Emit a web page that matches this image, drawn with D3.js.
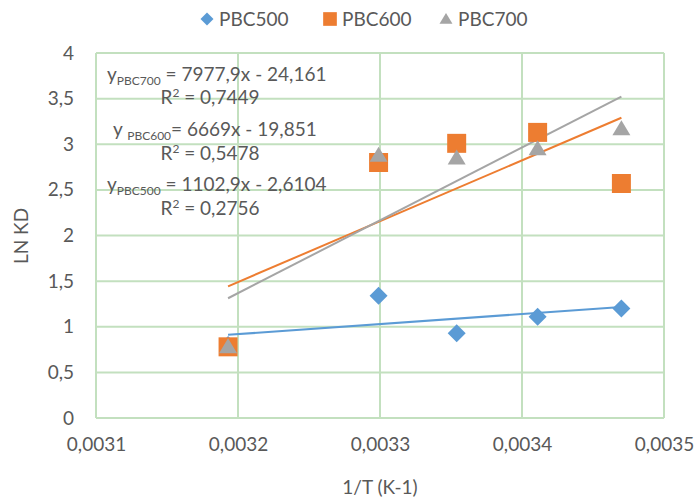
<!DOCTYPE html>
<html><head><meta charset="utf-8">
<script src="https://cdn.jsdelivr.net/npm/d3@7"></script>
<style>body{margin:0;background:#fff}svg{display:block;font-family:Lato,"Open Sans",sans-serif}</style>
</head><body><svg id="c" width="700" height="502"></svg>
<script>
const invT = [0.003193, 0.003299, 0.003354, 0.003411, 0.003470];
const pbc500 = [0.80, 1.34, 0.93, 1.11, 1.20];
const pbc600 = [0.78, 2.80, 3.01, 3.13, 2.57];
const pbc700 = [0.78, 2.88, 2.85, 2.95, 3.17];
const seriesNames = ["PBC500", "PBC600", "PBC700"];
const slopes = [1102.9, 6669, 7977.9];
const intercepts = [-2.6104, -19.851, -24.161];
const r2 = ["0,2756", "0,5478", "0,7449"];
const xTicks = [0.0031, 0.0032, 0.0033, 0.0034, 0.0035];
const yTicks = [0, 0.5, 1, 1.5, 2, 2.5, 3, 3.5, 4];
const colors = ["#5B9BD5", "#ED7D31", "#A5A5A5"];
const values = [pbc500, pbc600, pbc700];

const svg = d3.select("#c");
const x = d3.scaleLinear().domain([0.0031, 0.0035]).range([96, 664]);
const y = d3.scaleLinear().domain([0, 4]).range([418, 53]);
const fmt = v => String(v).replace(".", ",");
const grid = "#C3E0BF", txt = "#595959";

function marker(i, s) {
  // s = scale factor
  if (i === 0) { const h = 9 * s; return `M0,${-h}L${h},0L0,${h}L${-h},0Z`; }
  if (i === 1) { const h = 9.5 * s; return `M${-h},${-h}H${h}V${h}H${-h}Z`; }
  const w = 9 * s, t = 8.5 * s, b = 6.5 * s;
  return `M0,${-t}L${w},${b}L${-w},${b}Z`;
}

// gridlines
svg.append("g").selectAll("line").data(yTicks).join("line")
  .attr("x1", 96).attr("x2", 664).attr("y1", d => y(d)).attr("y2", d => y(d))
  .attr("stroke", grid).attr("stroke-width", 2);
svg.append("g").selectAll("line").data(xTicks).join("line")
  .attr("y1", 53).attr("y2", 418).attr("x1", d => x(d)).attr("x2", d => x(d))
  .attr("stroke", grid).attr("stroke-width", 2);

// axes (labels only)
const ya = svg.append("g").attr("transform", "translate(96,0)")
  .call(d3.axisLeft(y).tickValues(yTicks).tickFormat(fmt).tickSize(0).tickPadding(22));
const xa = svg.append("g").attr("transform", "translate(0,418)")
  .call(d3.axisBottom(x).tickValues(xTicks).tickFormat(fmt).tickSize(0).tickPadding(20));
[ya, xa].forEach(a => {
  a.select(".domain").remove();
  a.selectAll("text").attr("fill", txt).style("font-size", "19px").style("font-family", "Lato,sans-serif");
});

svg.append("text").attr("transform", "translate(28,236) rotate(-90)").attr("text-anchor", "middle")
  .attr("fill", txt).style("font-size", "19px").text("LN KD");
svg.append("text").attr("x", 380).attr("y", 494).attr("text-anchor", "middle")
  .attr("fill", txt).style("font-size", "19px").text("1/T (K-1)");

// trendlines
const xmin = d3.min(invT), xmax = d3.max(invT);
slopes.forEach((m, i) => {
  svg.append("line")
    .attr("x1", x(xmin)).attr("x2", x(xmax))
    .attr("y1", y(m * xmin + intercepts[i])).attr("y2", y(m * xmax + intercepts[i]))
    .attr("stroke", colors[i]).attr("stroke-width", 2);
});

// markers
[0, 1, 2].forEach(i => {
  svg.append("g").selectAll("path").data(values[i].map((v, j) => [invT[j], v])).join("path")
    .attr("transform", d => `translate(${x(d[0])},${y(d[1])})`)
    .attr("d", marker(i, 1))
    .attr("fill", colors[i]);
});

// equations
const eqs = [
  {sub: "PBC700", gap: "", mid: " = ", eq: "7977,9x - 24,161", r: r2[2], x0: 107, y0: 81, ry: 104},
  {sub: "PBC600", gap: " ", mid: "= ", eq: "6669x - 19,851", r: r2[1], x0: 113, y0: 136, ry: 160},
  {sub: "PBC500", gap: "", mid: " = ", eq: "1102,9x - 2,6104", r: r2[0], x0: 107, y0: 191, ry: 215}
];
eqs.forEach(e => {
  const t = svg.append("text").attr("x", e.x0).attr("y", e.y0).attr("fill", txt).style("font-size", "19px");
  t.append("tspan").text("y" + e.gap);
  t.append("tspan").attr("dy", 4).style("font-size", "12px").text(e.sub);
  t.append("tspan").attr("dy", -4).text(e.mid + e.eq);
  const r = svg.append("text").attr("x", 210).attr("y", e.ry).attr("fill", txt).attr("text-anchor", "middle").style("font-size", "19px");
  r.append("tspan").text("R");
  r.append("tspan").attr("dy", -7).style("font-size", "12px").text("2");
  r.append("tspan").attr("dy", 7).text(" = " + e.r);
});

// legend
const legX = [207, 330, 446];
seriesNames.forEach((n, i) => {
  const g = svg.append("g").attr("transform", `translate(${legX[i]},19)`);
  g.append("path").attr("d", marker(i, 0.72)).attr("fill", colors[i]);
  g.append("text").attr("x", 12).attr("y", 7).attr("fill", txt).style("font-size", "19px").text(n);
});
</script></body></html>
